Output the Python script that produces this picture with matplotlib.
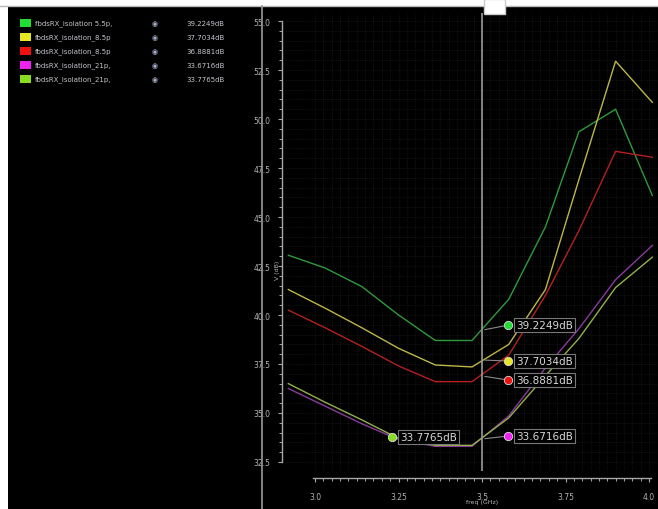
import numpy as np
import matplotlib
matplotlib.use("Agg")
import matplotlib.pyplot as plt
from matplotlib.patches import Rectangle
from matplotlib.ticker import MultipleLocator, FixedLocator
from matplotlib.transforms import offset_copy

# data (freq in GHz, values in dB)
freq = [2.92, 3.03, 3.14, 3.25, 3.36, 3.47, 3.58, 3.69, 3.79, 3.90, 4.01]
iso_55p = [43.05, 42.4, 41.45, 40.0, 38.7, 38.7, 40.8, 44.5, 49.35, 50.5, 46.1]
iso_85p_a = [41.3, 40.35, 39.35, 38.3, 37.45, 37.35, 38.5, 41.3, 46.9, 52.95, 50.85]
iso_85p_b = [40.25, 39.35, 38.4, 37.4, 36.6, 36.6, 37.95, 41.0, 44.3, 48.35, 48.05]
iso_21p_a = [36.25, 35.35, 34.45, 33.65, 33.3, 33.3, 34.85, 37.3, 39.3, 41.8, 43.55]
iso_21p_b = [36.5, 35.55, 34.65, 33.7, 33.35, 33.35, 34.75, 36.9, 38.8, 41.4, 42.95]

names = ["fbdsRX_isolation 5.5p,", "fbdsRX_isolation_8.5p", "fbdsRX_isolation_8.5p",
         "fbdsRX_isolation_21p,", "fbdsRX_isolation_21p,"]
readouts = ["39.2249dB", "37.7034dB", "36.8881dB", "33.6716dB", "33.7765dB"]
marker_vals = [39.2249, 37.7034, 36.8881, 33.6716, 33.7765]
cursor_f = 3.5
lime_marker_f = 3.23

series = [iso_55p, iso_85p_a, iso_85p_b, iso_21p_a, iso_21p_b]
swatch = ["#22dd33", "#e6e622", "#ee1111", "#ee22ee", "#88dd22"]
line_col = ["#2f9a3c", "#bdb64a", "#b52020", "#8a3a9c", "#93b04a"]

W, H = 658, 510
fig = plt.figure(figsize=(W / 100, H / 100), dpi=100)
fig.patch.set_facecolor("white")


def fx(x):
    return x / W


def fy(y):
    return 1 - y / H


# black canvas under everything, white strip on top
fig.patches.append(Rectangle((fx(8), 0), 1 - fx(8), fy(7), transform=fig.transFigure,
                             facecolor="black", edgecolor="none", zorder=-10))
fig.lines.append(plt.Line2D([0, 1], [fy(7), fy(7)], transform=fig.transFigure,
                            color="#bbbbbb", lw=1))
fig.lines.append(plt.Line2D([fx(262), fx(262)], [0, fy(7)], transform=fig.transFigure,
                            color="#9a9a9a", lw=1.2))

# legend panel
rows_y = [24, 38, 52, 66, 80]
for name, val, c, y in zip(names, readouts, swatch, rows_y):
    fig.patches.append(Rectangle((fx(20), fy(y + 4)), fx(11), 8 / H, transform=fig.transFigure,
                                 facecolor=c, edgecolor="none"))
    fig.text(fx(35), fy(y), name, color="#c4c4cc", fontsize=5, va="center", ha="left")
    fig.text(fx(155), fy(y), "◉", color="#aab0d0", fontsize=5, va="center", ha="center")
    fig.text(fx(186), fy(y), val, color="#c4c4cc", fontsize=5, va="center", ha="left")

# main plot area
left, right, top, bottom = 286, 658, 14, 472
ax = fig.add_axes([fx(left), fy(bottom), fx(right - left), (bottom - top) / H])
ax.set_facecolor("black")
ax.set_xlim(2.913, 4.027)
ax.set_ylim(32.04, 55.41)

for vals, c in zip(series, line_col):
    ax.plot(freq, vals, color=c, lw=1.0)

for s in ["top", "right"]:
    ax.spines[s].set_visible(False)
ax.spines["left"].set_position(("outward", 3))
ax.spines["left"].set_bounds(32.5, 55)
ax.spines["bottom"].set_position(("outward", 5))
ax.spines["bottom"].set_bounds(2.995, 4.005)
for s in ["left", "bottom"]:
    ax.spines[s].set_color("#a8a8a8")
    ax.spines[s].set_linewidth(1)

ax.yaxis.set_major_locator(MultipleLocator(2.5))
ax.yaxis.set_minor_locator(MultipleLocator(0.5))
ax.xaxis.set_major_locator(FixedLocator([3.0, 3.25, 3.5, 3.75, 4.0]))
ax.xaxis.set_minor_locator(FixedLocator(np.arange(3.0, 4.001, 0.025)))
ax.set_xticklabels(["3.0", "3.25", "3.5", "3.75", "4.0"])
ax.set_yticks(np.arange(32.5, 55.01, 2.5))
ax.set_yticklabels([f"{v:.1f}" for v in np.arange(32.5, 55.01, 2.5)])
ax.tick_params(which="both", colors="#a8a8a8", labelcolor="#b4b4b4", labelsize=5.5)
ax.tick_params(which="major", length=3, width=0.8)
ax.tick_params(which="minor", length=2, width=0.7)
ax.tick_params(axis="y", pad=5)
ax.tick_params(axis="x", pad=7)
ax.grid(which="both", color="#222222", lw=0.5, ls=":")
ax.set_axisbelow(True)

fig.text(fx(277), fy(270), "V (dB)", color="#b4b4b4", fontsize=4.5, rotation=90,
         va="center", ha="center")
fig.text(fx(482), fy(503), "freq (GHz)", color="#b4b4b4", fontsize=4.5,
         va="center", ha="center")

# vertical cursor with its tag
ax.axvline(cursor_f, color="#9a9a9a", lw=1.2, zorder=3)
fig.patches.append(Rectangle((fx(484), fy(15)), fx(21), 15 / H, transform=fig.transFigure,
                             facecolor="white", edgecolor="#cccccc", zorder=5))
fig.text(fx(494), fy(8), "M1", color="#555555", fontsize=4, va="center", ha="center")

# cursor readouts: dot + boxed value, offset from the curve intersection
offsets = [(26, 5), (26, -1), (26, -4), (26, 3)]
box = dict(boxstyle="square,pad=0.2", facecolor="black", edgecolor="#777777", lw=0.8)
for i, (dx, dy) in enumerate(offsets):
    v = marker_vals[i]
    ax.annotate("", xy=(cursor_f, v), xytext=(dx, dy), textcoords="offset pixels",
                arrowprops=dict(arrowstyle="-", color="#8a8a8a", lw=0.8), zorder=6)
    tr = offset_copy(ax.transData, fig=fig, x=dx, y=dy, units="dots")
    ax.plot(cursor_f, v, "o", ms=6, color=swatch[i], mec="#dddddd", mew=0.6,
            transform=tr, zorder=7)
    ax.annotate(readouts[i], xy=(cursor_f, v), xytext=(dx + 8, dy),
                textcoords="offset pixels", color="#d8d8d8", fontsize=7.5,
                va="center", ha="left", bbox=box, zorder=7)

# point marker on the last trace
v = marker_vals[4]
ax.plot(lime_marker_f, v, "o", ms=6, color=swatch[4], mec="#dddddd", mew=0.6, zorder=7)
ax.annotate(readouts[4], xy=(lime_marker_f, v), xytext=(8, 0), textcoords="offset pixels",
            color="#d8d8d8", fontsize=7.5, va="center", ha="left", bbox=box, zorder=7)

fig.savefig("out.png", dpi=100, facecolor=fig.get_facecolor())
